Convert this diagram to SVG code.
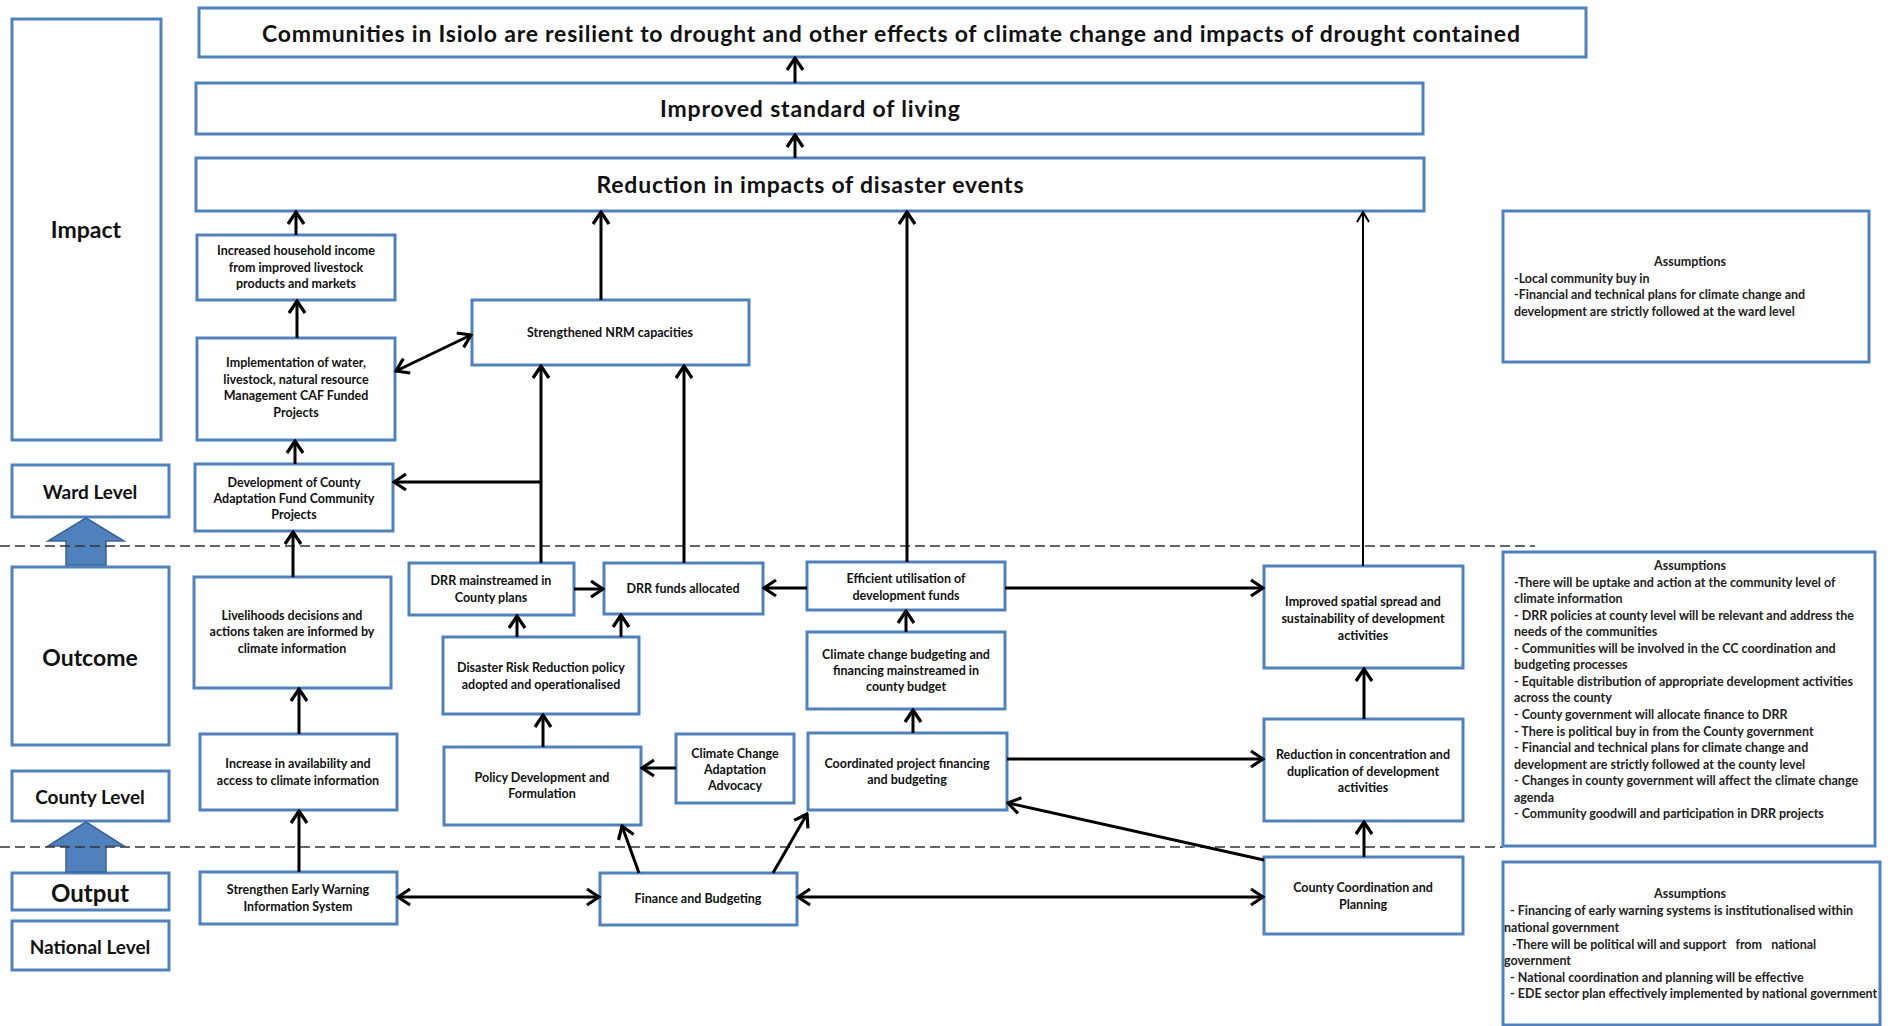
<svg xmlns="http://www.w3.org/2000/svg" width="1888" height="1026" viewBox="0 0 1888 1026">
<style>
.box{fill:#fff;stroke:#4f81bd;stroke-width:3}
.t{font-family:Lato,"Liberation Sans",sans-serif;font-size:12.5px;font-weight:bold;fill:#111;text-anchor:middle;dominant-baseline:central}
.big{font-family:Lato,"Liberation Sans",sans-serif;font-size:23px;font-weight:bold;fill:#111;text-anchor:middle;dominant-baseline:central}
.lvl{font-family:Lato,"Liberation Sans",sans-serif;font-weight:bold;fill:#111;text-anchor:middle;dominant-baseline:central}
.as{font-family:Lato,"Liberation Sans",sans-serif;font-size:12.5px;font-weight:bold;fill:#222;dominant-baseline:central}
.c{fill:none;stroke:#000;stroke-width:3;marker-end:url(#ah)}
.d{fill:none;stroke:#000;stroke-width:3;marker-start:url(#ah);marker-end:url(#ah)}
.thin{fill:none;stroke:#000;stroke-width:2;marker-end:url(#ahs)}
.dash{stroke:#333;stroke-width:1.5;stroke-dasharray:10 5}
.blk{fill:#4f81bd;stroke:#3a6496;stroke-width:1.5}
</style>
<defs>
<marker id="ah" viewBox="-14 -10 16 20" refX="0" refY="0" markerWidth="16" markerHeight="20" markerUnits="userSpaceOnUse" orient="auto-start-reverse">
<path d="M-12,-8 L0,0 L-12,8" fill="none" stroke="#000" stroke-width="3.2"/>
</marker>
<marker id="ahs" viewBox="-12 -9 14 18" refX="0" refY="0" markerWidth="14" markerHeight="18" markerUnits="userSpaceOnUse" orient="auto">
<path d="M-10,-6 L0,0 L-10,6" fill="none" stroke="#000" stroke-width="2"/>
</marker>
</defs>
<rect width="1888" height="1026" fill="#fff"/>

<!-- level column -->
<g id="impact-label"><rect class="box" x="12" y="19" width="149" height="421"/><text class="lvl" x="86" y="229" font-size="23">Impact</text></g>
<g id="ward-level"><rect class="box" x="12" y="465" width="157" height="52"/><text class="lvl" x="90" y="491" font-size="19">Ward Level</text></g>
<g id="outcome-label"><rect class="box" x="12" y="567" width="157" height="178"/><text class="lvl" x="90" y="657" font-size="23">Outcome</text></g>
<g id="county-level"><rect class="box" x="12" y="771" width="157" height="50"/><text class="lvl" x="90" y="796" font-size="19">County Level</text></g>
<g id="output-label"><rect class="box" x="12" y="873" width="157" height="37"/><text class="lvl" x="90" y="892" font-size="24">Output</text></g>
<g id="national-level"><rect class="box" x="12" y="921" width="157" height="49"/><text class="lvl" x="90" y="946" font-size="19">National Level</text></g>
<g id="up-arrow-ward"><polygon class="blk" points="86,518 124,541 106,541 106,565 66,565 66,541 48,541"/></g>
<g id="up-arrow-county"><polygon class="blk" points="86,822 124,846 106,846 106,872 66,872 66,846 48,846"/></g>

<!-- dashed separators -->
<line class="dash" x1="0" y1="546" x2="1535" y2="546"/>
<line class="dash" x1="0" y1="847" x2="1503" y2="847"/>

<!-- top boxes -->
<g id="goal"><rect class="box" x="199" y="8" width="1387" height="49"/><text class="big" x="891" y="33" textLength="1258" lengthAdjust="spacing">Communities in Isiolo are resilient to drought and other effects of climate change and impacts of drought contained</text></g>
<g id="standard-living"><rect class="box" x="196" y="83" width="1227" height="51"/><text class="big" x="810" y="108" textLength="300" lengthAdjust="spacing">Improved standard of living</text></g>
<g id="reduction-impacts"><rect class="box" x="196" y="158" width="1228" height="53"/><text class="big" x="810" y="184" textLength="427" lengthAdjust="spacing">Reduction in impacts of disaster events</text></g>

<!-- nodes -->
<g id="household-income"><rect class="box" x="197" y="235" width="198" height="65"/><text class="t" x="296" y="250">Increased household income</text><text class="t" x="296" y="267">from improved livestock</text><text class="t" x="296" y="283">products and markets</text></g>
<g id="implementation"><rect class="box" x="197" y="338" width="198" height="102"/><text class="t" x="296" y="362">Implementation of water,</text><text class="t" x="296" y="379">livestock, natural resource</text><text class="t" x="296" y="395">Management CAF Funded</text><text class="t" x="296" y="412">Projects</text></g>
<g id="nrm"><rect class="box" x="472" y="300" width="277" height="65"/><text class="t" x="610" y="332">Strengthened NRM capacities</text></g>
<g id="caf-projects"><rect class="box" x="195" y="464" width="198" height="67"/><text class="t" x="294" y="482">Development of County</text><text class="t" x="294" y="498">Adaptation Fund Community</text><text class="t" x="294" y="514">Projects</text></g>
<g id="livelihoods"><rect class="box" x="194" y="577" width="197" height="111"/><text class="t" x="292" y="615">Livelihoods decisions and</text><text class="t" x="292" y="631">actions taken are informed by</text><text class="t" x="292" y="648">climate information</text></g>
<g id="climate-info"><rect class="box" x="200" y="734" width="197" height="76"/><text class="t" x="298" y="763">Increase in availability and</text><text class="t" x="298" y="780">access to climate information</text></g>
<g id="ews"><rect class="box" x="200" y="872" width="197" height="52"/><text class="t" x="298" y="889">Strengthen Early Warning</text><text class="t" x="298" y="906">Information System</text></g>
<g id="drr-mainstreamed"><rect class="box" x="409" y="563" width="165" height="52"/><text class="t" x="491" y="580">DRR mainstreamed in</text><text class="t" x="491" y="597">County plans</text></g>
<g id="drr-funds"><rect class="box" x="604" y="563" width="159" height="51"/><text class="t" x="683" y="588">DRR funds allocated</text></g>
<g id="drr-policy"><rect class="box" x="443" y="637" width="196" height="77"/><text class="t" x="541" y="667">Disaster Risk Reduction policy</text><text class="t" x="541" y="684">adopted and operationalised</text></g>
<g id="policy-dev"><rect class="box" x="444" y="747" width="197" height="78"/><text class="t" x="542" y="777">Policy Development and</text><text class="t" x="542" y="793">Formulation</text></g>
<g id="cc-advocacy"><rect class="box" x="676" y="734" width="118" height="69"/><text class="t" x="735" y="753">Climate Change</text><text class="t" x="735" y="769">Adaptation</text><text class="t" x="735" y="785">Advocacy</text></g>
<g id="finance"><rect class="box" x="600" y="873" width="197" height="52"/><text class="t" x="698" y="898">Finance and Budgeting</text></g>
<g id="efficient-funds"><rect class="box" x="807" y="562" width="198" height="48"/><text class="t" x="906" y="578">Efficient utilisation of</text><text class="t" x="906" y="595">development funds</text></g>
<g id="cc-budgeting"><rect class="box" x="807" y="632" width="198" height="77"/><text class="t" x="906" y="654">Climate change budgeting and</text><text class="t" x="906" y="670">financing mainstreamed in</text><text class="t" x="906" y="686">county budget</text></g>
<g id="coordinated-financing"><rect class="box" x="808" y="733" width="199" height="77"/><text class="t" x="907" y="763">Coordinated project financing</text><text class="t" x="907" y="779">and budgeting</text></g>
<g id="spatial-spread"><rect class="box" x="1264" y="566" width="199" height="102"/><text class="t" x="1363" y="601">Improved spatial spread and</text><text class="t" x="1363" y="618">sustainability of development</text><text class="t" x="1363" y="635">activities</text></g>
<g id="reduction-duplication"><rect class="box" x="1264" y="719" width="199" height="102"/><text class="t" x="1363" y="754">Reduction in concentration and</text><text class="t" x="1363" y="771">duplication of development</text><text class="t" x="1363" y="787">activities</text></g>
<g id="county-coordination"><rect class="box" x="1264" y="857" width="199" height="77"/><text class="t" x="1363" y="887">County Coordination and</text><text class="t" x="1363" y="904">Planning</text></g>

<!-- assumptions -->
<g id="assumptions-ward"><rect class="box" x="1503" y="211" width="366" height="151"/>
<text class="as" x="1690" y="261" text-anchor="middle">Assumptions</text>
<text class="as" x="1514" y="278">-Local community buy in</text>
<text class="as" x="1514" y="294">-Financial and technical plans for climate change and</text>
<text class="as" x="1514" y="311">development are strictly followed at the ward level</text></g>
<g id="assumptions-county"><rect class="box" x="1503" y="552" width="372" height="294"/>
<text class="as" x="1690" y="565" text-anchor="middle">Assumptions</text>
<text class="as" x="1514" y="582">-There will be uptake and action at the community level of</text>
<text class="as" x="1514" y="598">climate information</text>
<text class="as" x="1514" y="615">- DRR policies at county level will be relevant and address the</text>
<text class="as" x="1514" y="631">needs of the communities</text>
<text class="as" x="1514" y="648">- Communities will be involved in the CC coordination and</text>
<text class="as" x="1514" y="664">budgeting processes</text>
<text class="as" x="1514" y="681">- Equitable distribution of appropriate development activities</text>
<text class="as" x="1514" y="697">across the county</text>
<text class="as" x="1514" y="714">- County government will allocate finance to DRR</text>
<text class="as" x="1514" y="731">- There is political buy in from the County government</text>
<text class="as" x="1514" y="747">- Financial and technical plans for climate change and</text>
<text class="as" x="1514" y="764">development are strictly followed at the county level</text>
<text class="as" x="1514" y="780">- Changes in county government will affect the climate change</text>
<text class="as" x="1514" y="797">agenda</text>
<text class="as" x="1514" y="813">- Community goodwill and participation in DRR projects</text></g>
<g id="assumptions-national"><rect class="box" x="1503" y="862" width="377" height="163"/>
<text class="as" x="1690" y="893" text-anchor="middle">Assumptions</text>
<text class="as" x="1510" y="910">- Financing of early warning systems is institutionalised within</text>
<text class="as" x="1504" y="927">national government</text>
<text class="as" x="1512" y="944" xml:space="preserve">-There will be political will and support   from   national</text>
<text class="as" x="1504" y="960">government</text>
<text class="as" x="1510" y="977">- National coordination and planning will be effective</text>
<text class="as" x="1510" y="993">- EDE sector plan effectively implemented by national government</text></g>

<!-- connectors -->
<g id="connectors">
<line class="c" x1="795" y1="83" x2="795" y2="58"/>
<line class="c" x1="795" y1="158" x2="795" y2="135"/>
<line class="c" x1="296" y1="235" x2="296" y2="212"/>
<line class="c" x1="297" y1="338" x2="297" y2="301"/>
<line class="c" x1="601" y1="300" x2="601" y2="212"/>
<line class="d" x1="396" y1="371" x2="471" y2="335"/>
<line class="c" x1="295" y1="464" x2="295" y2="441"/>
<line class="c" x1="541" y1="563" x2="541" y2="366"/>
<line class="c" x1="540" y1="482" x2="394" y2="482"/>
<line class="c" x1="684" y1="563" x2="684" y2="366"/>
<line class="c" x1="293" y1="577" x2="293" y2="532"/>
<line class="c" x1="299" y1="734" x2="299" y2="689"/>
<line class="c" x1="299" y1="872" x2="299" y2="811"/>
<line class="c" x1="574" y1="589" x2="603" y2="589"/>
<line class="c" x1="517" y1="637" x2="517" y2="616"/>
<line class="c" x1="621" y1="637" x2="621" y2="615"/>
<line class="c" x1="543" y1="747" x2="543" y2="715"/>
<line class="c" x1="676" y1="768" x2="642" y2="768"/>
<line class="c" x1="639" y1="873" x2="622" y2="826"/>
<line class="c" x1="773" y1="873" x2="807" y2="814"/>
<line class="d" x1="398" y1="897" x2="599" y2="897"/>
<line class="d" x1="798" y1="897" x2="1263" y2="897"/>
<line class="c" x1="907" y1="562" x2="907" y2="212"/>
<line class="c" x1="807" y1="588" x2="764" y2="588"/>
<line class="c" x1="1005" y1="588" x2="1263" y2="588"/>
<line class="c" x1="906" y1="632" x2="906" y2="611"/>
<line class="c" x1="913" y1="733" x2="913" y2="710"/>
<line class="c" x1="1007" y1="759" x2="1263" y2="759"/>
<line class="thin" x1="1363" y1="566" x2="1363" y2="212"/>
<line class="c" x1="1364" y1="719" x2="1364" y2="669"/>
<line class="c" x1="1364" y1="857" x2="1364" y2="822"/>
<line class="c" x1="1264" y1="860" x2="1008" y2="803"/>
</g>
</svg>
